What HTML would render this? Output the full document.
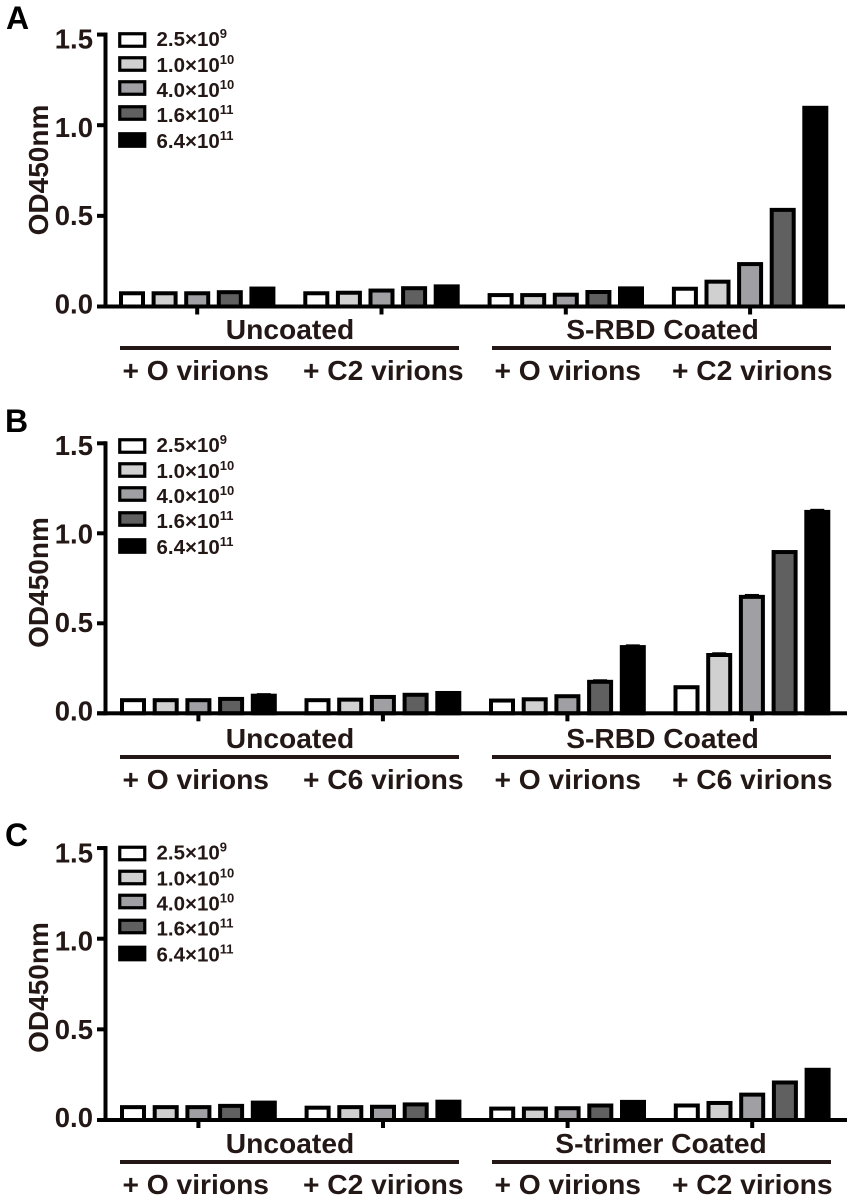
<!DOCTYPE html>
<html lang="en">
<head>
<meta charset="utf-8">
<title>OD450nm bar charts</title>
<style>
html,body{margin:0;padding:0;background:#fff;width:850px;height:1198px;overflow:hidden}
svg{display:block}
text{font-family:"Liberation Sans",sans-serif;font-weight:bold;fill:#231815}
.big{font-size:28.2px}
.tick{font-size:27.5px;text-anchor:end}
.title{font-size:28px;text-anchor:middle}
.letter{font-size:32px;fill:#000}
.leg{font-size:20.5px}
.sup{font-size:13px}
.mid{text-anchor:middle}
.sw{stroke:#000;stroke-width:3.2}
.rule{fill:#231815}
</style>
</head>
<body>
<svg id="figure" width="850" height="1198" viewBox="0 0 850 1198" xmlns="http://www.w3.org/2000/svg">

<g>
  <text class="letter" x="6" y="29">A</text>
  <text class="title" transform="translate(48,170) rotate(-90)">OD450nm</text>
  <g id="plot-a"></g>
  <g>
    <rect class="sw" x="119.75" y="33.75" width="25" height="12.5" fill="#fff"/>
    <rect class="sw" x="119.75" y="57.75" width="25" height="12.5" fill="#d0d0d0"/>
    <rect class="sw" x="119.75" y="81.75" width="25" height="12.5" fill="#a0a0a4"/>
    <rect class="sw" x="119.75" y="106.75" width="25" height="12.5" fill="#606060"/>
    <rect class="sw" x="119.75" y="133.75" width="25" height="12.5" fill="#000"/>
    <text class="leg" x="156.5" y="46">2.5×10<tspan class="sup" dy="-8">9</tspan></text>
    <text class="leg" x="156.5" y="72">1.0×10<tspan class="sup" dy="-8">10</tspan></text>
    <text class="leg" x="156.5" y="97">4.0×10<tspan class="sup" dy="-8">10</tspan></text>
    <text class="leg" x="156.5" y="122">1.6×10<tspan class="sup" dy="-8">11</tspan></text>
    <text class="leg" x="156.5" y="148">6.4×10<tspan class="sup" dy="-8">11</tspan></text>
  </g>
  <g>
    <text class="big mid" x="290" y="339">Uncoated</text>
    <text class="big mid" x="662.5" y="339">S-RBD Coated</text>
    <rect class="rule" x="120" y="346" width="339" height="4"/>
    <rect class="rule" x="492" y="346" width="339" height="4"/>
    <text class="big" x="122.5" y="380">+ O virions</text>
    <text class="big" x="303" y="380">+ C2 virions</text>
    <text class="big" x="494.5" y="380">+ O virions</text>
    <text class="big" x="672" y="380">+ C2 virions</text>
  </g>
</g>

<g>
  <text class="letter" x="5" y="432">B</text>
  <text class="title" transform="translate(48,582.5) rotate(-90)">OD450nm</text>
  <g id="plot-b"></g>
  <g transform="translate(0,406)">
    <rect class="sw" x="119.75" y="33.75" width="25" height="12.5" fill="#fff"/>
    <rect class="sw" x="119.75" y="57.75" width="25" height="12.5" fill="#d0d0d0"/>
    <rect class="sw" x="119.75" y="81.75" width="25" height="12.5" fill="#a0a0a4"/>
    <rect class="sw" x="119.75" y="106.75" width="25" height="12.5" fill="#606060"/>
    <rect class="sw" x="119.75" y="133.75" width="25" height="12.5" fill="#000"/>
    <text class="leg" x="156.5" y="46">2.5×10<tspan class="sup" dy="-8">9</tspan></text>
    <text class="leg" x="156.5" y="72">1.0×10<tspan class="sup" dy="-8">10</tspan></text>
    <text class="leg" x="156.5" y="97">4.0×10<tspan class="sup" dy="-8">10</tspan></text>
    <text class="leg" x="156.5" y="122">1.6×10<tspan class="sup" dy="-8">11</tspan></text>
    <text class="leg" x="156.5" y="148">6.4×10<tspan class="sup" dy="-8">11</tspan></text>
  </g>
  <g transform="translate(0,409)">
    <text class="big mid" x="290" y="339">Uncoated</text>
    <text class="big mid" x="662.5" y="339">S-RBD Coated</text>
    <rect class="rule" x="120" y="346" width="339" height="4"/>
    <rect class="rule" x="492" y="346" width="339" height="4"/>
    <text class="big" x="122.5" y="380">+ O virions</text>
    <text class="big" x="303" y="380">+ C6 virions</text>
    <text class="big" x="494.5" y="380">+ O virions</text>
    <text class="big" x="672" y="380">+ C6 virions</text>
  </g>
</g>

<g>
  <text class="letter" x="5" y="846">C</text>
  <text class="title" transform="translate(48,987.5) rotate(-90)">OD450nm</text>
  <g id="plot-c"></g>
  <g transform="translate(0,813.5)">
    <rect class="sw" x="119.75" y="33.75" width="25" height="12.5" fill="#fff"/>
    <rect class="sw" x="119.75" y="57.75" width="25" height="12.5" fill="#d0d0d0"/>
    <rect class="sw" x="119.75" y="81.75" width="25" height="12.5" fill="#a0a0a4"/>
    <rect class="sw" x="119.75" y="106.75" width="25" height="12.5" fill="#606060"/>
    <rect class="sw" x="119.75" y="133.75" width="25" height="12.5" fill="#000"/>
    <text class="leg" x="156.5" y="46">2.5×10<tspan class="sup" dy="-8">9</tspan></text>
    <text class="leg" x="156.5" y="72">1.0×10<tspan class="sup" dy="-8">10</tspan></text>
    <text class="leg" x="156.5" y="97">4.0×10<tspan class="sup" dy="-8">10</tspan></text>
    <text class="leg" x="156.5" y="122">1.6×10<tspan class="sup" dy="-8">11</tspan></text>
    <text class="leg" x="156.5" y="148">6.4×10<tspan class="sup" dy="-8">11</tspan></text>
  </g>
  <g transform="translate(0,814)">
    <text class="big mid" x="290" y="339">Uncoated</text>
    <text class="big mid" x="661" y="339">S-trimer Coated</text>
    <rect class="rule" x="120" y="346" width="339" height="4"/>
    <rect class="rule" x="492" y="346" width="339" height="4"/>
    <text class="big" x="122.5" y="380">+ O virions</text>
    <text class="big" x="303" y="380">+ C2 virions</text>
    <text class="big" x="494.5" y="380">+ O virions</text>
    <text class="big" x="672" y="380">+ C2 virions</text>
  </g>
</g>
</svg>

<script>
// Chart data: one row per x group, one value per virion dose.
const yTickValues = [0, 0.5, 1.0, 1.5];
const doseColors = ['#ffffff', '#d0d0d0', '#a0a0a4', '#606060', '#000000'];

const panelAValues = [
  [0.084, 0.084, 0.084, 0.090, 0.110],
  [0.084, 0.087, 0.099, 0.112, 0.122],
  [0.074, 0.074, 0.076, 0.091, 0.111],
  [0.109, 0.148, 0.245, 0.544, 1.107]
];
const panelBValues = [
  [0.084, 0.084, 0.084, 0.091, 0.109],
  [0.084, 0.087, 0.102, 0.114, 0.124],
  [0.082, 0.089, 0.106, 0.186, 0.379],
  [0.156, 0.335, 0.658, 0.907, 1.130]
];
const panelBErrors = [
  [0, 0, 0, 0, 0.003],
  [0, 0, 0, 0, 0],
  [0, 0, 0, 0.003, 0.004],
  [0, 0.004, 0.005, 0, 0.006]
];
const panelCValues = [
  [0.082, 0.082, 0.082, 0.089, 0.107],
  [0.079, 0.082, 0.084, 0.097, 0.112],
  [0.074, 0.074, 0.076, 0.091, 0.111],
  [0.091, 0.105, 0.151, 0.218, 0.288]
];

const SVG_NS = 'http://www.w3.org/2000/svg';

function drawPanel(hostId, values, errors, layout) {
  const host = document.getElementById(hostId);
  const yScale = function (v) { return layout.y0 - v * layout.unit; };
  const labelY = function (v) { return layout.y0 + 7 - v * layout.labelUnit; };
  const barX = function (g, b) { return layout.x0 + g * layout.groupStep + b * layout.barStep; };
  const barW = 26;
  const sw = 4;

  values.forEach(function (row, g) {
    row.forEach(function (v, b) {
      const top = yScale(v);
      const bar = document.createElementNS(SVG_NS, 'rect');
      bar.setAttribute('x', barX(g, b) + sw / 2);
      bar.setAttribute('y', top + sw / 2);
      bar.setAttribute('width', barW - sw);
      bar.setAttribute('height', Math.max(layout.y0 - top - sw / 2, 0));
      bar.setAttribute('fill', doseColors[b]);
      bar.setAttribute('stroke', '#000');
      bar.setAttribute('stroke-width', sw);
      
      
      host.appendChild(bar);

      const err = errors ? errors[g][b] : 0;
      if (err > 0) {
        const cap = document.createElementNS(SVG_NS, 'rect');
        cap.setAttribute('x', barX(g, b) + 6);
        cap.setAttribute('y', yScale(v + err));
        cap.setAttribute('width', barW - 12);
        cap.setAttribute('height', top - yScale(v + err) + 0.5);
        cap.setAttribute('fill', '#000');
        
        
        host.appendChild(cap);
      }
    });

    const xTick = document.createElementNS(SVG_NS, 'rect');
    xTick.setAttribute('x', barX(g, 2) + barW / 2 - 2);
    xTick.setAttribute('y', layout.y0);
    xTick.setAttribute('width', 4);
    xTick.setAttribute('height', 8);
    xTick.setAttribute('fill', '#000');
    
    
    host.appendChild(xTick);
  });

  yTickValues.forEach(function (v) {
    const t = document.createElementNS(SVG_NS, 'rect');
    t.setAttribute('x', 97);
    t.setAttribute('y', yScale(v) - 2);
    t.setAttribute('width', 9);
    t.setAttribute('height', 4);
    t.setAttribute('fill', '#000');
    
    
    host.appendChild(t);

    const label = document.createElementNS(SVG_NS, 'text');
    label.setAttribute('class', 'tick');
    label.setAttribute('x', 93);
    label.setAttribute('y', labelY(v));
    
    
    label.textContent = v.toFixed(1);
    host.appendChild(label);
  });

  const yAxis = document.createElementNS(SVG_NS, 'rect');
  yAxis.setAttribute('x', 103.5);
  yAxis.setAttribute('y', yScale(1.5) - 2);
  yAxis.setAttribute('width', 4);
  yAxis.setAttribute('height', layout.y0 - yScale(1.5) + 4);
  yAxis.setAttribute('fill', '#000');
  
  
  host.appendChild(yAxis);

  const xAxis = document.createElementNS(SVG_NS, 'rect');
  xAxis.setAttribute('x', 97);
  xAxis.setAttribute('y', layout.y0 - 2);
  xAxis.setAttribute('width', layout.axisEnd - 97);
  xAxis.setAttribute('height', 4);
  xAxis.setAttribute('fill', '#000');
  
  
  host.appendChild(xAxis);
}

drawPanel('plot-a', panelAValues, null, {y0: 306.5, unit: 181.3, labelUnit: 176.7, x0: 119, groupStep: 184.3, barStep: 32.6, axisEnd: 845});
drawPanel('plot-b', panelBValues, panelBErrors, {y0: 713.3, unit: 180, labelUnit: 177, x0: 120, groupStep: 184.5, barStep: 32.7, axisEnd: 847});
drawPanel('plot-c', panelCValues, null, {y0: 1120, unit: 181.3, labelUnit: 176.5, x0: 120, groupStep: 184.6, barStep: 32.7, axisEnd: 847});
</script>
</body>
</html>
